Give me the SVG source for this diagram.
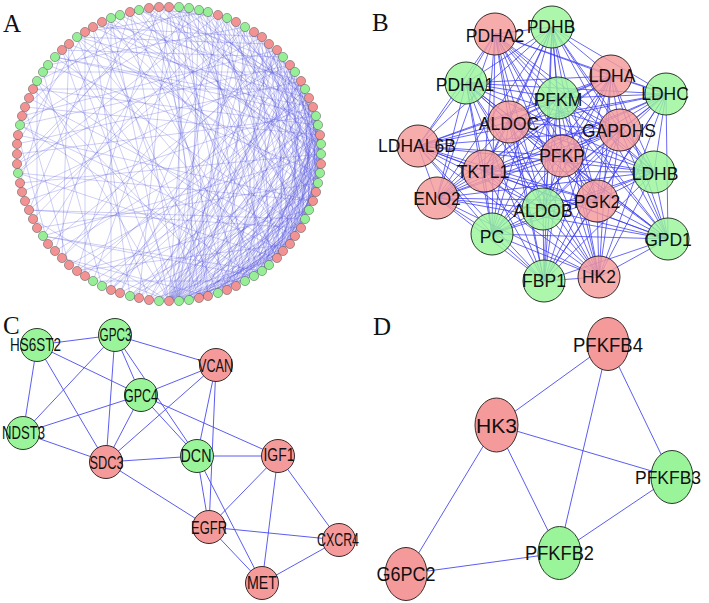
<svg xmlns="http://www.w3.org/2000/svg" width="709" height="603" viewBox="0 0 709 603">
<style>
.bg{fill:#fff}
.pl{font-family:"Liberation Serif","Times New Roman",serif;font-size:25px;fill:#111}
.r{fill:#f59a9a;stroke:#3a2a2a;stroke-width:1}
.g{fill:#9af59a;stroke:#2a3a2a;stroke-width:1}
.ar{fill:#f29292;stroke:#555;stroke-width:.5}
.ag{fill:#96ef96;stroke:#555;stroke-width:.5}
.eA{fill:none;stroke:#5050e0;stroke-width:.55;stroke-opacity:.5}
.eB{fill:none;stroke:#3a3af2;stroke-width:.9;stroke-opacity:.85}
.eC{fill:none;stroke:#4a4aee;stroke-width:.9}
#B .r,#B .g{fill-opacity:.82}
.tB{font-family:"Liberation Sans",Arial,sans-serif;font-size:17.5px;fill:#111;text-anchor:middle}
.tC{font-family:"Liberation Sans",Arial,sans-serif;font-size:18px;fill:#111;text-anchor:middle}
.tD{font-family:"Liberation Sans",Arial,sans-serif;font-size:21px;fill:#111;text-anchor:middle}
</style>
<rect class="bg" width="709" height="603"/>
<text class="pl" x="3" y="32">A</text>
<text class="pl" x="372" y="31">B</text>
<text class="pl" x="3" y="334">C</text>
<text class="pl" x="373" y="335">D</text>

<g id="connectors">
<path class="eA" d="M169 301L189 8M169 301L218 15M169 301L245 27M169 301L269 44M169 301L290 65M169 301L305 89M169 301L316 116M169 301L320 135M169 301L321 154M169 301L320 173M169 301L316 192M169 301L309 210M169 301L295 236M169 301L277 258M169 301L262 271M169 301L245 281M169 301L218 293M169 301L111 18M169 301L69 44M169 301L37 81M169 301L62 258M169 301L33 219M169 301L277 50M169 301L301 81M169 301L313 107M169 301L321 144M169 301L318 183M169 301L305 219
M179 301L179 7M179 301L208 12M179 301L254 32M179 301L295 72M179 301L318 125M179 301L321 164M179 301L313 201M179 301L290 244M179 301L254 276M179 301L130 12M179 301L77 37
M189 300L199 10M189 300L236 22M189 300L283 57M189 300L309 98M189 300L320 173M189 300L301 228M189 300L269 265
M199 298L169 7M199 298L227 18M199 298L262 37M199 298L316 116M199 298L321 154M199 298L316 192M199 298L283 251
M208 296L189 8M208 296L277 50M208 296L313 107M208 296L321 144M208 296L305 219M208 296L159 7
M218 293L218 15M218 293L301 81M218 293L320 135M218 293L318 183M218 293L295 236M218 293L93 27
M227 290L245 27M227 290L290 65M227 290L318 125M227 290L321 164M227 290L309 210M227 290L149 8
M236 286L179 7M236 286L269 44M236 286L305 89M236 286L321 154M236 286L313 201M236 286L277 258M236 286L62 50
M245 281L208 12M245 281L283 57M245 281L316 116M245 281L320 173M245 281L295 236M245 281L130 12
M254 276L169 7M254 276L254 32M254 276L309 98M254 276L320 135M254 276L316 192M254 276L20 125M254 276L43 236
M262 271L227 18M262 271L295 72M262 271L318 125M262 271L321 164M262 271L305 219M262 271L111 18
M269 265L199 10M269 265L262 37M269 265L313 107M269 265L321 154M269 265L313 201M269 265L77 37
M277 258L236 22M277 258L290 65M277 258L316 116M277 258L318 183M277 258L295 236M277 258L149 8M277 258L18 173
M283 251L189 8M283 251L277 50M283 251L305 89M283 251L321 144M283 251L313 201M283 251L37 81
M290 244L218 15M290 244L269 44M290 244L301 81M290 244L320 135M290 244L320 173M290 244L120 15
M295 236L179 7M295 236L245 27M295 236L295 72M295 236L316 116M295 236L321 164M295 236L29 98
M301 228L208 12M301 228L283 57M301 228L309 98M301 228L321 154M301 228L316 192M301 228L29 210
M305 219L169 7M305 219L254 32M305 219L290 65M305 219L318 125M305 219L320 173M305 219L102 22
M309 210L227 18M309 210L277 50M309 210L305 89M309 210L320 135M309 210L139 10M309 210L77 271
M313 201L199 10M313 201L262 37M313 201L301 81M313 201L316 116M313 201L18 135
M316 192L236 22M316 192L283 57M316 192L313 107M316 192L321 144M316 192L85 32
M318 183L189 8M318 183L269 44M318 183L305 89M318 183L318 125M318 183L159 7M318 183L37 228
M320 173L218 15M320 173L254 32M320 173L295 72M320 173L316 116M320 173L48 65
M321 164L179 7M321 164L245 27M321 164L290 65M321 164L313 107M321 164L130 12M321 164L102 286
M321 154L208 12M321 154L262 37M321 154L301 81M321 154L111 18M321 154L20 183M321 154L130 296
M321 144L169 7M321 144L236 22M321 144L283 57M321 144L69 44
M320 135L199 10M320 135L269 44M320 135L149 8M320 135L25 107
M318 125L227 18M318 125L277 50M318 125L93 27M318 125L69 265
M316 116L189 8M316 116L254 32M316 116L55 57M316 116L17 154
M313 107L218 15M313 107L120 15M313 107L25 201
M309 98L179 7M309 98L77 37M309 98L55 251
M305 89L159 7M305 89L33 89M305 89L111 290
M301 81L102 22M301 81L17 144M295 72L43 72M295 72L85 276M290 65L139 10M290 65L22 192
M283 57L62 50M283 57L48 244M277 50L22 116M277 50L149 300M262 37L93 27M262 37L17 164
M245 27L48 65M245 27L62 258M227 18L149 8M227 18L33 219M227 18L120 293M208 12L85 32M208 12L20 125
M189 8L37 81M189 8L43 236M189 8L93 281M169 7L120 15M169 7L17 164M169 7L139 298
M159 7L18 173M159 7L77 271M130 12L25 107M130 12L55 251M111 18L29 210M111 18L111 290
M85 32L17 144M85 32L85 276M62 50L20 183M62 50L149 300M37 81L37 228M25 107L69 265M18 135L48 244
M130 296L316 116M130 296L309 210M149 300L301 81M149 300L320 173M149 300L277 258
M120 293L262 37M120 293L316 192M93 281L320 135M93 281L245 281M77 271L309 98M77 271L290 244
M62 258L277 50M62 258L208 296M43 236L321 154M43 236L262 271M29 210L245 27M29 210L305 219
M18 173L218 15M18 173L313 201M20 125L290 65M20 125L283 251M33 89L318 125M33 89L227 290
M55 57L313 107M55 57L301 228M77 37L269 44M77 37L318 183M102 22L321 144M102 22L199 298
M139 10L305 89M139 10L277 258M69 44L62 258M43 72L102 286M93 27L130 296
M309 210L245 281M305 219L227 290M301 228L208 296M295 236L199 298M290 244L189 300M283 251L179 301M316 192L262 271M318 183L254 276M320 173L236 286M321 164L218 293M313 201L199 298M321 154L227 290M321 144L245 281M320 135L262 271M318 125L277 258M316 116L290 244M313 107L301 228M309 98L309 210
M159 301L316 116M159 301L295 72M159 301L321 164M139 298L301 81M139 298L320 135M111 290L313 107M111 290L283 57M102 286L305 89"/>
<path class="eB" d="M495 34L552 27M495 34L611 76M495 34L666 94M495 34L466 83M495 34L558 98M495 34L509 122M495 34L620 130M495 34L418 146M495 34L562 156M495 34L484 171M495 34L654 172M495 34L437 198M495 34L543 209M495 34L597 201M495 34L492 234M495 34L668 239M495 34L544 281M495 34L599 277
M552 27L611 76M552 27L666 94M552 27L466 83M552 27L558 98M552 27L509 122M552 27L620 130M552 27L418 146M552 27L562 156M552 27L484 171M552 27L654 172M552 27L437 198M552 27L543 209M552 27L597 201M552 27L492 234M552 27L668 239M552 27L544 281M552 27L599 277
M611 76L666 94M611 76L466 83M611 76L558 98M611 76L509 122M611 76L620 130M611 76L418 146M611 76L562 156M611 76L484 171M611 76L654 172M611 76L437 198M611 76L543 209M611 76L597 201M611 76L492 234M611 76L668 239M611 76L544 281M611 76L599 277
M666 94L466 83M666 94L558 98M666 94L509 122M666 94L620 130M666 94L418 146M666 94L562 156M666 94L484 171M666 94L654 172M666 94L437 198M666 94L543 209M666 94L597 201M666 94L492 234M666 94L668 239M666 94L544 281M666 94L599 277
M466 83L558 98M466 83L509 122M466 83L620 130M466 83L418 146M466 83L562 156M466 83L484 171M466 83L654 172M466 83L437 198M466 83L543 209M466 83L597 201M466 83L492 234M466 83L668 239M466 83L544 281M466 83L599 277
M558 98L509 122M558 98L620 130M558 98L418 146M558 98L562 156M558 98L484 171M558 98L654 172M558 98L437 198M558 98L543 209M558 98L597 201M558 98L492 234M558 98L668 239M558 98L544 281M558 98L599 277
M509 122L620 130M509 122L418 146M509 122L562 156M509 122L484 171M509 122L654 172M509 122L437 198M509 122L543 209M509 122L597 201M509 122L492 234M509 122L668 239M509 122L544 281M509 122L599 277
M620 130L418 146M620 130L562 156M620 130L484 171M620 130L654 172M620 130L437 198M620 130L543 209M620 130L597 201M620 130L492 234M620 130L668 239M620 130L544 281M620 130L599 277
M418 146L562 156M418 146L484 171M418 146L654 172M418 146L437 198M418 146L543 209M418 146L597 201M418 146L492 234M418 146L668 239M418 146L544 281M418 146L599 277
M562 156L484 171M562 156L654 172M562 156L437 198M562 156L543 209M562 156L597 201M562 156L492 234M562 156L668 239M562 156L544 281M562 156L599 277
M484 171L654 172M484 171L437 198M484 171L543 209M484 171L597 201M484 171L492 234M484 171L668 239M484 171L544 281M484 171L599 277
M654 172L437 198M654 172L543 209M654 172L597 201M654 172L492 234M654 172L668 239M654 172L544 281M654 172L599 277
M437 198L543 209M437 198L597 201M437 198L492 234M437 198L668 239M437 198L544 281M437 198L599 277
M543 209L597 201M543 209L492 234M543 209L668 239M543 209L544 281M543 209L599 277
M597 201L492 234M597 201L668 239M597 201L544 281M597 201L599 277
M492 234L668 239M492 234L544 281M492 234L599 277M668 239L544 281M668 239L599 277M544 281L599 277"/>
<path class="eC" d="M37 345L115 335M37 345L23 433M37 345L141 395M37 345L106 462M115 335L23 433M115 335L106 462M115 335L141 395M115 335L197 456M115 335L216 365M141 395L216 365M141 395L23 433M141 395L106 462M141 395L197 456M141 395L278 456M216 365L106 462M216 365L197 456M216 365L209 527M23 433L106 462M106 462L197 456M106 462L209 527M197 456L278 456M197 456L209 527M197 456L262 583M278 456L209 527M278 456L262 583M278 456L339 540M209 527L339 540M209 527L262 583M262 583L339 540"/>
<path class="eC" d="M608 344L496 425M608 344L559 553M608 344L672 477M496 425L672 477M496 425L559 553M496 425L406 574M672 477L559 553M406 574L559 553"/>
</g>

<g id="A">
<g id="a0"><circle class="ar" cx="169" cy="7" r="4.6"/></g>
<g id="a1"><circle class="ag" cx="179" cy="7" r="4.6"/></g>
<g id="a2"><circle class="ag" cx="189" cy="8" r="4.6"/></g>
<g id="a3"><circle class="ag" cx="199" cy="10" r="4.6"/></g>
<g id="a4"><circle class="ag" cx="208" cy="12" r="4.6"/></g>
<g id="a5"><circle class="ar" cx="218" cy="15" r="4.6"/></g>
<g id="a6"><circle class="ag" cx="227" cy="18" r="4.6"/></g>
<g id="a7"><circle class="ar" cx="236" cy="22" r="4.6"/></g>
<g id="a8"><circle class="ag" cx="245" cy="27" r="4.6"/></g>
<g id="a9"><circle class="ar" cx="254" cy="32" r="4.6"/></g>
<g id="a10"><circle class="ar" cx="262" cy="37" r="4.6"/></g>
<g id="a11"><circle class="ar" cx="269" cy="44" r="4.6"/></g>
<g id="a12"><circle class="ar" cx="277" cy="50" r="4.6"/></g>
<g id="a13"><circle class="ag" cx="283" cy="57" r="4.6"/></g>
<g id="a14"><circle class="ar" cx="290" cy="65" r="4.6"/></g>
<g id="a15"><circle class="ag" cx="295" cy="72" r="4.6"/></g>
<g id="a16"><circle class="ar" cx="301" cy="81" r="4.6"/></g>
<g id="a17"><circle class="ag" cx="305" cy="89" r="4.6"/></g>
<g id="a18"><circle class="ar" cx="309" cy="98" r="4.6"/></g>
<g id="a19"><circle class="ar" cx="313" cy="107" r="4.6"/></g>
<g id="a20"><circle class="ag" cx="316" cy="116" r="4.6"/></g>
<g id="a21"><circle class="ag" cx="318" cy="125" r="4.6"/></g>
<g id="a22"><circle class="ar" cx="320" cy="135" r="4.6"/></g>
<g id="a23"><circle class="ag" cx="321" cy="144" r="4.6"/></g>
<g id="a24"><circle class="ag" cx="321" cy="154" r="4.6"/></g>
<g id="a25"><circle class="ar" cx="321" cy="164" r="4.6"/></g>
<g id="a26"><circle class="ag" cx="320" cy="173" r="4.6"/></g>
<g id="a27"><circle class="ag" cx="318" cy="183" r="4.6"/></g>
<g id="a28"><circle class="ar" cx="316" cy="192" r="4.6"/></g>
<g id="a29"><circle class="ar" cx="313" cy="201" r="4.6"/></g>
<g id="a30"><circle class="ag" cx="309" cy="210" r="4.6"/></g>
<g id="a31"><circle class="ag" cx="305" cy="219" r="4.6"/></g>
<g id="a32"><circle class="ar" cx="301" cy="228" r="4.6"/></g>
<g id="a33"><circle class="ar" cx="295" cy="236" r="4.6"/></g>
<g id="a34"><circle class="ar" cx="290" cy="244" r="4.6"/></g>
<g id="a35"><circle class="ar" cx="283" cy="251" r="4.6"/></g>
<g id="a36"><circle class="ar" cx="277" cy="258" r="4.6"/></g>
<g id="a37"><circle class="ag" cx="269" cy="265" r="4.6"/></g>
<g id="a38"><circle class="ag" cx="262" cy="271" r="4.6"/></g>
<g id="a39"><circle class="ag" cx="254" cy="276" r="4.6"/></g>
<g id="a40"><circle class="ag" cx="245" cy="281" r="4.6"/></g>
<g id="a41"><circle class="ar" cx="236" cy="286" r="4.6"/></g>
<g id="a42"><circle class="ar" cx="227" cy="290" r="4.6"/></g>
<g id="a43"><circle class="ag" cx="218" cy="293" r="4.6"/></g>
<g id="a44"><circle class="ar" cx="208" cy="296" r="4.6"/></g>
<g id="a45"><circle class="ar" cx="199" cy="298" r="4.6"/></g>
<g id="a46"><circle class="ag" cx="189" cy="300" r="4.6"/></g>
<g id="a47"><circle class="ag" cx="179" cy="301" r="4.6"/></g>
<g id="a48"><circle class="ar" cx="169" cy="301" r="4.6"/></g>
<g id="a49"><circle class="ag" cx="159" cy="301" r="4.6"/></g>
<g id="a50"><circle class="ar" cx="149" cy="300" r="4.6"/></g>
<g id="a51"><circle class="ar" cx="139" cy="298" r="4.6"/></g>
<g id="a52"><circle class="ag" cx="130" cy="296" r="4.6"/></g>
<g id="a53"><circle class="ar" cx="120" cy="293" r="4.6"/></g>
<g id="a54"><circle class="ar" cx="111" cy="290" r="4.6"/></g>
<g id="a55"><circle class="ag" cx="102" cy="286" r="4.6"/></g>
<g id="a56"><circle class="ag" cx="93" cy="281" r="4.6"/></g>
<g id="a57"><circle class="ar" cx="85" cy="276" r="4.6"/></g>
<g id="a58"><circle class="ar" cx="77" cy="271" r="4.6"/></g>
<g id="a59"><circle class="ar" cx="69" cy="265" r="4.6"/></g>
<g id="a60"><circle class="ar" cx="62" cy="258" r="4.6"/></g>
<g id="a61"><circle class="ar" cx="55" cy="251" r="4.6"/></g>
<g id="a62"><circle class="ar" cx="48" cy="244" r="4.6"/></g>
<g id="a63"><circle class="ag" cx="43" cy="236" r="4.6"/></g>
<g id="a64"><circle class="ar" cx="37" cy="228" r="4.6"/></g>
<g id="a65"><circle class="ar" cx="33" cy="219" r="4.6"/></g>
<g id="a66"><circle class="ar" cx="29" cy="210" r="4.6"/></g>
<g id="a67"><circle class="ar" cx="25" cy="201" r="4.6"/></g>
<g id="a68"><circle class="ar" cx="22" cy="192" r="4.6"/></g>
<g id="a69"><circle class="ar" cx="20" cy="183" r="4.6"/></g>
<g id="a70"><circle class="ag" cx="18" cy="173" r="4.6"/></g>
<g id="a71"><circle class="ar" cx="17" cy="164" r="4.6"/></g>
<g id="a72"><circle class="ar" cx="17" cy="154" r="4.6"/></g>
<g id="a73"><circle class="ar" cx="17" cy="144" r="4.6"/></g>
<g id="a74"><circle class="ar" cx="18" cy="135" r="4.6"/></g>
<g id="a75"><circle class="ag" cx="20" cy="125" r="4.6"/></g>
<g id="a76"><circle class="ar" cx="22" cy="116" r="4.6"/></g>
<g id="a77"><circle class="ar" cx="25" cy="107" r="4.6"/></g>
<g id="a78"><circle class="ar" cx="29" cy="98" r="4.6"/></g>
<g id="a79"><circle class="ar" cx="33" cy="89" r="4.6"/></g>
<g id="a80"><circle class="ag" cx="37" cy="81" r="4.6"/></g>
<g id="a81"><circle class="ag" cx="43" cy="72" r="4.6"/></g>
<g id="a82"><circle class="ag" cx="48" cy="65" r="4.6"/></g>
<g id="a83"><circle class="ag" cx="55" cy="57" r="4.6"/></g>
<g id="a84"><circle class="ar" cx="62" cy="50" r="4.6"/></g>
<g id="a85"><circle class="ar" cx="69" cy="44" r="4.6"/></g>
<g id="a86"><circle class="ag" cx="77" cy="37" r="4.6"/></g>
<g id="a87"><circle class="ar" cx="85" cy="32" r="4.6"/></g>
<g id="a88"><circle class="ar" cx="93" cy="27" r="4.6"/></g>
<g id="a89"><circle class="ar" cx="102" cy="22" r="4.6"/></g>
<g id="a90"><circle class="ag" cx="111" cy="18" r="4.6"/></g>
<g id="a91"><circle class="ag" cx="120" cy="15" r="4.6"/></g>
<g id="a92"><circle class="ar" cx="130" cy="12" r="4.6"/></g>
<g id="a93"><circle class="ag" cx="139" cy="10" r="4.6"/></g>
<g id="a94"><circle class="ar" cx="149" cy="8" r="4.6"/></g>
<g id="a95"><circle class="ar" cx="159" cy="7" r="4.6"/></g>
</g>

<g id="B">
<g id="PDHA2"><circle class="r" cx="495" cy="34" r="21"/><text class="tB" x="495" y="41.5">PDHA2</text></g>
<g id="PDHB"><circle class="g" cx="552" cy="27" r="21"/><text class="tB" x="551" y="32.5">PDHB</text></g>
<g id="LDHA"><circle class="r" cx="611" cy="76" r="21"/><text class="tB" x="612" y="81.5">LDHA</text></g>
<g id="LDHC"><circle class="g" cx="666" cy="94" r="21"/><text class="tB" x="665" y="100">LDHC</text></g>
<g id="PDHA1"><circle class="g" cx="466" cy="83" r="21"/><text class="tB" x="465" y="90.5">PDHA1</text></g>
<g id="PFKM"><circle class="g" cx="558" cy="98" r="21"/><text class="tB" x="558" y="106">PFKM</text></g>
<g id="ALDOC"><circle class="r" cx="509" cy="122" r="21"/><text class="tB" x="509" y="130">ALDOC</text></g>
<g id="GAPDHS"><circle class="r" cx="620" cy="130" r="21"/><text class="tB" x="619" y="136.5">GAPDHS</text></g>
<g id="LDHAL6B"><circle class="r" cx="418" cy="146" r="21"/><text class="tB" x="417" y="151.5">LDHAL6B</text></g>
<g id="PFKP"><circle class="r" cx="562" cy="156" r="21"/><text class="tB" x="562" y="162">PFKP</text></g>
<g id="TKTL1"><circle class="r" cx="484" cy="171" r="21"/><text class="tB" x="483" y="178">TKTL1</text></g>
<g id="LDHB"><circle class="g" cx="654" cy="172" r="21"/><text class="tB" x="655" y="180">LDHB</text></g>
<g id="ENO2"><circle class="r" cx="437" cy="198" r="21"/><text class="tB" x="437" y="205">ENO2</text></g>
<g id="ALDOB"><circle class="g" cx="543" cy="209" r="21"/><text class="tB" x="543" y="216.5">ALDOB</text></g>
<g id="PGK2"><circle class="r" cx="597" cy="201" r="21"/><text class="tB" x="597" y="208">PGK2</text></g>
<g id="PC"><circle class="g" cx="492" cy="234" r="21"/><text class="tB" x="492" y="242.5">PC</text></g>
<g id="GPD1"><circle class="g" cx="668" cy="239" r="21"/><text class="tB" x="668" y="246">GPD1</text></g>
<g id="FBP1"><circle class="g" cx="544" cy="281" r="21"/><text class="tB" x="544" y="287">FBP1</text></g>
<g id="HK2"><circle class="r" cx="599" cy="277" r="21"/><text class="tB" x="599" y="283">HK2</text></g>
</g>

<g id="C">
<g id="HS6ST2"><circle class="g" cx="37" cy="345" r="16.5"/><text class="tC" x="35.5" y="351" textLength="51" lengthAdjust="spacingAndGlyphs">HS6ST2</text></g>
<g id="GPC3"><circle class="g" cx="115" cy="335" r="16.5"/><text class="tC" x="115.5" y="340.5" textLength="32" lengthAdjust="spacingAndGlyphs">GPC3</text></g>
<g id="VCAN"><circle class="r" cx="216" cy="365" r="16.5"/><text class="tC" x="215.5" y="371.5" textLength="35" lengthAdjust="spacingAndGlyphs">VCAN</text></g>
<g id="GPC4"><circle class="g" cx="141" cy="395" r="16.5"/><text class="tC" x="141" y="401.5" textLength="34" lengthAdjust="spacingAndGlyphs">GPC4</text></g>
<g id="NDST3"><circle class="g" cx="23" cy="433" r="16.5"/><text class="tC" x="23.5" y="439" textLength="43" lengthAdjust="spacingAndGlyphs">NDST3</text></g>
<g id="SDC3"><circle class="r" cx="106" cy="462" r="16.5"/><text class="tC" x="106.5" y="469" textLength="34" lengthAdjust="spacingAndGlyphs">SDC3</text></g>
<g id="DCN"><circle class="g" cx="197" cy="456" r="16.5"/><text class="tC" x="196" y="461.5" textLength="31" lengthAdjust="spacingAndGlyphs">DCN</text></g>
<g id="IGF1"><circle class="r" cx="278" cy="456" r="16.5"/><text class="tC" x="279" y="461" textLength="31" lengthAdjust="spacingAndGlyphs">IGF1</text></g>
<g id="EGFR"><circle class="r" cx="209" cy="527" r="16.5"/><text class="tC" x="209" y="533.5" textLength="36" lengthAdjust="spacingAndGlyphs">EGFR</text></g>
<g id="CXCR4"><circle class="r" cx="339" cy="540" r="16.5"/><text class="tC" x="338" y="545.5" textLength="42" lengthAdjust="spacingAndGlyphs">CXCR4</text></g>
<g id="MET"><circle class="r" cx="262" cy="583" r="16.5"/><text class="tC" x="262" y="589" textLength="30" lengthAdjust="spacingAndGlyphs">MET</text></g>
</g>

<g id="D">
<g id="PFKFB4"><ellipse class="r" cx="608" cy="344" rx="21" ry="26.5"/><text class="tD" x="608" y="352" textLength="70" lengthAdjust="spacingAndGlyphs">PFKFB4</text></g>
<g id="HK3"><ellipse class="r" cx="496.5" cy="425" rx="21.5" ry="27"/><text class="tD" x="496.5" y="432.5" textLength="41" lengthAdjust="spacingAndGlyphs">HK3</text></g>
<g id="PFKFB3"><ellipse class="g" cx="672" cy="477" rx="21" ry="26.5"/><text class="tD" x="668" y="484" style="font-size:19px" textLength="66" lengthAdjust="spacingAndGlyphs">PFKFB3</text></g>
<g id="PFKFB2"><ellipse class="g" cx="559.5" cy="553" rx="21.5" ry="26.5"/><text class="tD" x="559.5" y="560" textLength="69" lengthAdjust="spacingAndGlyphs">PFKFB2</text></g>
<g id="G6PC2"><ellipse class="r" cx="406" cy="574" rx="21" ry="26.5"/><text class="tD" x="406" y="581" textLength="59" lengthAdjust="spacingAndGlyphs">G6PC2</text></g>
</g>
</svg>
